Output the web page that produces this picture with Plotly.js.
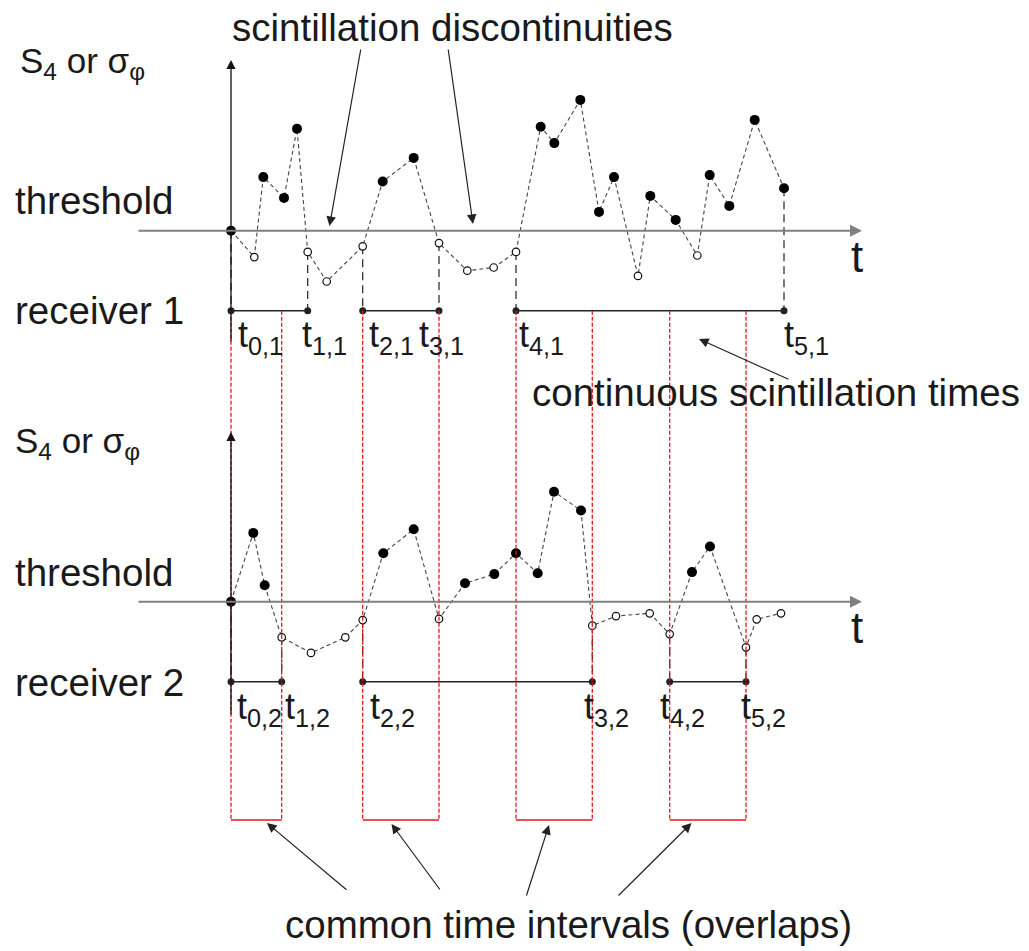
<!DOCTYPE html>
<html>
<head>
<meta charset="utf-8">
<script src="https://cdn.plot.ly/plotly-3.0.1.min.js"></script>
<style>
  html, body { margin: 0; padding: 0; background: #fff; }
  #chart { width: 1029px; height: 951px; }
</style>
</head>
<body>
<div id="chart"></div>
<script>
// Scintillation index (S4 or sigma_phi) sampled by two receivers, arbitrary time units
const threshold = 0.3;

const time1  = [0, 2.33, 3.23, 5.3, 6.6, 7.67, 9.57, 13.17, 15.17, 18.27, 20.8, 23.63, 26.27, 28.5,
                30.97, 32.33, 34.93, 36.8, 38.3, 40.7, 41.93, 44.47, 46.63, 47.87, 49.83, 52.37, 55.3];
const index1 = [0.300, 0.234, 0.434, 0.382, 0.555, 0.247, 0.173, 0.261, 0.423, 0.482, 0.269, 0.200, 0.208, 0.247,
                0.560, 0.519, 0.627, 0.347, 0.434, 0.187, 0.387, 0.327, 0.238, 0.439, 0.362, 0.577, 0.406];

const time2  = [0, 2.23, 3.37, 5.07, 8.0, 11.43, 13.17, 15.23, 18.27, 20.8, 23.4, 26.33, 28.5,
                30.67, 32.3, 35.0, 36.13, 38.5, 41.87, 43.87, 46.1, 47.9, 51.5, 52.57, 55.0];
const index2 = [0.300, 0.472, 0.341, 0.211, 0.172, 0.211, 0.254, 0.421, 0.481, 0.257, 0.346, 0.369, 0.421,
                0.371, 0.575, 0.528, 0.240, 0.264, 0.271, 0.219, 0.374, 0.438, 0.186, 0.256, 0.271];

// Start / end of each continuous scintillation interval (pairs)
const bounds1 = [0, 7.67, 13.17, 20.8, 28.5, 55.3];
const bounds2 = [0, 5.07, 13.17, 36.13, 43.87, 51.5];
const boundNames1 = ['t<sub>0,1</sub>', 't<sub>1,1</sub>', 't<sub>2,1</sub>', 't<sub>3,1</sub>', 't<sub>4,1</sub>', 't<sub>5,1</sub>'];
const boundNames2 = ['t<sub>0,2</sub>', 't<sub>1,2</sub>', 't<sub>2,2</sub>', 't<sub>3,2</sub>', 't<sub>4,2</sub>', 't<sub>5,2</sub>'];

// ---- page geometry ----
const W = 1029, H = 951;
const X0 = 231, PX_PER_T = 10;          // time origin and horizontal scale
const PX_PER_UNIT = 400;                // vertical scale of the index
const THR_PX1 = 230.7, THR_PX2 = 601.7; // where each threshold line sits
const barLevel = 0.1;                   // level of the interval bars

const tOf = px => (px - X0) / PX_PER_T;
const y1Of = py => threshold + (THR_PX1 - py) / PX_PER_UNIT;
const y2Of = py => threshold + (THR_PX2 - py) / PX_PER_UNIT;
const pxX = px => px / W;
const pxY = py => 1 - py / H;

const FONT = 'Liberation Sans, Arial, sans-serif';
const INK = '#1a1a1a';
const BIG = 38.5;

const traces = [];

function sampleAt(times, vals, t) { return vals[times.indexOf(t)]; }

function receiver(times, vals, bounds, yaxis) {
  // dashed vertical drop from each interval boundary to the bar
  bounds.forEach(b => {
    traces.push({x: [b, b], y: [sampleAt(times, vals, b), barLevel], yaxis, mode: 'lines',
      line: {color: '#222', width: 1.2, dash: '8px,5px'}, hoverinfo: 'skip'});
  });
  // interval bars
  for (let i = 0; i < bounds.length; i += 2) {
    traces.push({x: [bounds[i], bounds[i + 1]], y: [barLevel, barLevel], yaxis, mode: 'lines+markers',
      line: {color: '#222', width: 1.5}, marker: {size: 7, color: '#222'}, hoverinfo: 'skip'});
  }
  // sample path
  traces.push({x: times, y: vals, yaxis, mode: 'lines',
    line: {color: '#444', width: 1.1, dash: '4px,3px'}, hoverinfo: 'skip'});
  const above = times.map((t, i) => vals[i] >= threshold);
  traces.push({x: times.filter((t, i) => above[i]), y: vals.filter((v, i) => above[i]), yaxis, mode: 'markers',
    marker: {size: 10, color: '#000'}, hoverinfo: 'skip'});
  traces.push({x: times.filter((t, i) => !above[i]), y: vals.filter((v, i) => !above[i]), yaxis, mode: 'markers',
    marker: {size: 7.5, color: '#fff', line: {color: '#111', width: 1.2}}, hoverinfo: 'skip'});
}
receiver(time1, index1, bounds1, 'y');
receiver(time2, index2, bounds2, 'y2');

// common time intervals = overlaps of the two receivers' intervals
const common = [];
for (let i = 0; i < bounds1.length; i += 2) {
  for (let j = 0; j < bounds2.length; j += 2) {
    const lo = Math.max(bounds1[i], bounds2[j]);
    const hi = Math.min(bounds1[i + 1], bounds2[j + 1]);
    if (hi > lo) common.push([lo, hi]);
  }
}
common.sort((a, b) => a[0] - b[0]);

const RED = '#e4161c';
const boxBottom = y1Of(820);
const shapes = [];
common.forEach(([lo, hi]) => {
  [lo, hi].forEach(t => shapes.push({type: 'line', xref: 'x', yref: 'y', x0: t, x1: t, y0: barLevel, y1: boxBottom,
    line: {color: RED, width: 1.3, dash: '4px,2px'}}));
  shapes.push({type: 'line', xref: 'x', yref: 'y', x0: lo, x1: hi, y0: boxBottom, y1: boxBottom,
    line: {color: RED, width: 1.4}});
});

const annotations = [];
function label(text, x, y, size) {
  annotations.push({text, xref: 'paper', yref: 'paper', x: pxX(x), y: pxY(y), xanchor: 'left', yanchor: 'middle',
    showarrow: false, font: {family: FONT, size: size || BIG, color: INK}});
}
function arrow(hx, hy, tx, ty, color, width, size) {
  annotations.push({text: '', xref: 'paper', yref: 'paper', x: pxX(hx), y: pxY(hy), ax: tx - hx, ay: ty - hy,
    showarrow: true, arrowhead: 2, arrowsize: size || 1.6, arrowwidth: width || 1.2, arrowcolor: color || '#222',
    standoff: 0, startstandoff: 0});
}

// axes: vertical index axes and horizontal threshold/time axes
arrow(X0, 60, X0, 343, '#111', 1.3, 1.4);
arrow(X0, 432, X0, 716, '#111', 1.3, 1.4);
arrow(862, THR_PX1, 137, THR_PX1, '#808080', 2, 1.2);
arrow(862, THR_PX2, 137, THR_PX2, '#808080', 2, 1.2);

// text
label('S<sub>4</sub> or σ<sub>φ</sub>', 18, 63, 35);
label('threshold', 13, 200);
label('receiver 1', 13, 310);
label('t', 849, 256, 44);
label('scintillation discontinuities', 230, 27);
label('continuous scintillation times', 530, 392);
label('S<sub>4</sub> or σ<sub>φ</sub>', 13, 443, 35);
label('threshold', 13, 572);
label('receiver 2', 13, 682);
label('t', 849, 627, 44);
label('common time intervals (overlaps)', 283, 924);

// boundary labels
const shift1 = [5, -8, 4, -22, 1, -2];
const shift2 = [4, 1, 5, -10, -12, -7];
bounds1.forEach((b, i) => label(boundNames1[i], X0 + b * PX_PER_T + shift1[i], 337, 36));
bounds2.forEach((b, i) => label(boundNames2[i], X0 + b * PX_PER_T + shift2[i], 709, 36));

// pointer arrows
arrow(329.5, 226, 361, 48);
arrow(473, 224, 448, 48);
arrow(699, 339, 790, 380);
arrow(267, 823, 348, 891);
arrow(391.5, 824, 441, 891);
arrow(549, 825, 526, 897);
arrow(691.5, 823, 617, 897);

const hidden = {visible: false, showgrid: false, zeroline: false, fixedrange: true};
const layout = {
  width: W, height: H,
  margin: {l: 0, r: 0, t: 0, b: 0, pad: 0},
  paper_bgcolor: '#fff', plot_bgcolor: '#fff',
  showlegend: false,
  xaxis: Object.assign({range: [tOf(0), tOf(W)], domain: [0, 1]}, hidden),
  yaxis: Object.assign({range: [y1Of(H), y1Of(0)], domain: [0, 1]}, hidden),
  yaxis2: Object.assign({range: [y2Of(H), y2Of(0)], domain: [0, 1], overlaying: 'y'}, hidden),
  shapes, annotations
};

Plotly.newPlot('chart', traces, layout, {displayModeBar: false, staticPlot: true});
</script>
</body>
</html>
